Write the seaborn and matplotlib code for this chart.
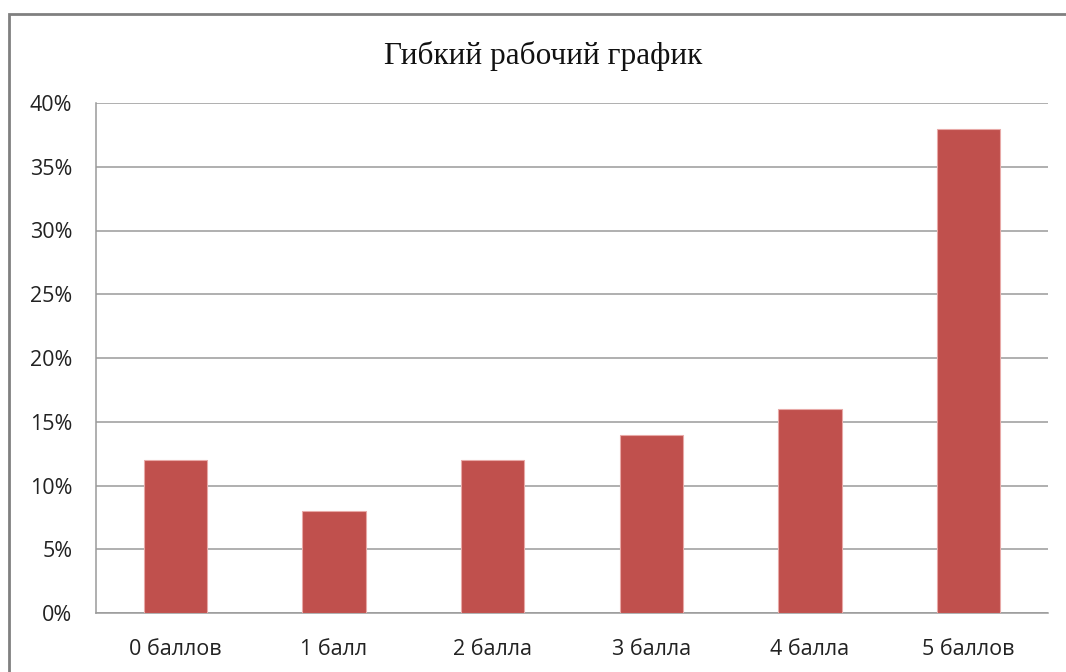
import matplotlib
matplotlib.use("Agg")
import matplotlib.pyplot as plt
import matplotlib.patches as patches
from matplotlib.ticker import FuncFormatter, FixedLocator
import seaborn as sns
import pandas as pd

categories = ["0 баллов", "1 балл", "2 балла", "3 балла", "4 балла", "5 баллов"]
shares = [0.12, 0.08, 0.12, 0.14, 0.16, 0.38]
y_ticks = [0, 0.05, 0.10, 0.15, 0.20, 0.25, 0.30, 0.35, 0.40]
title = "Гибкий рабочий график"

BAR_COLOR = "#C0504D"
GRID_COLOR = "#9A9A9A"

sns.set_style("white")
plt.rcParams["font.family"] = ["Open Sans", "DejaVu Sans"]

df = pd.DataFrame({"cat": categories, "share": shares})

fig = plt.figure(figsize=(10.66, 6.72), dpi=100)
ax = fig.add_axes([96 / 1066, 59 / 672, 952 / 1066, 510 / 672])

sns.barplot(data=df, x="cat", y="share", color=BAR_COLOR, width=0.4,
            saturation=1, edgecolor="#E8A9A7", linewidth=0.8, ax=ax, zorder=3)

ax.set_ylim(0, 0.40)
ax.set_xlim(-0.5, len(categories) - 0.5)
ax.yaxis.set_major_locator(FixedLocator(y_ticks))
ax.yaxis.set_major_formatter(FuncFormatter(lambda v, _: f"{round(v * 100)}%"))
ax.grid(axis="y", color=GRID_COLOR, linewidth=1.1, zorder=0)
ax.set_axisbelow(True)

# category boundary ticks on x axis
ax.set_xticks([i - 0.5 for i in range(len(categories) + 1)], minor=True)
ax.set_xticks(range(len(categories)))
ax.set_xticklabels(categories)
ax.tick_params(axis="x", which="major", length=0, pad=19, labelsize=15.5, labelcolor="#222222")
ax.tick_params(axis="x", which="minor", length=8, width=1.1, color=GRID_COLOR, direction="out")
ax.tick_params(axis="y", length=8, width=1.1, color=GRID_COLOR, direction="out",
               pad=9, labelsize=15.5, labelcolor="#222222")

for side in ["top", "right"]:
    ax.spines[side].set_visible(False)
for side in ["left", "bottom"]:
    ax.spines[side].set_color(GRID_COLOR)
    ax.spines[side].set_linewidth(1.1)

ax.set_xlabel("")
ax.set_ylabel("")

fig.text(543 / 1066, 1 - 56 / 672, title, ha="center", va="center",
         fontsize=22.5, family=["Liberation Serif", "DejaVu Serif"], color="#111111")

# outer chart frame (runs off the right and bottom edges)
frame = patches.Rectangle((8.5 / 1066, -0.05), 1.2, 1 - 13.5 / 672 + 0.05,
                          transform=fig.transFigure, fill=False,
                          edgecolor="#808080", linewidth=2)
fig.add_artist(frame)

fig.savefig("out.png", dpi=100, facecolor="white")
